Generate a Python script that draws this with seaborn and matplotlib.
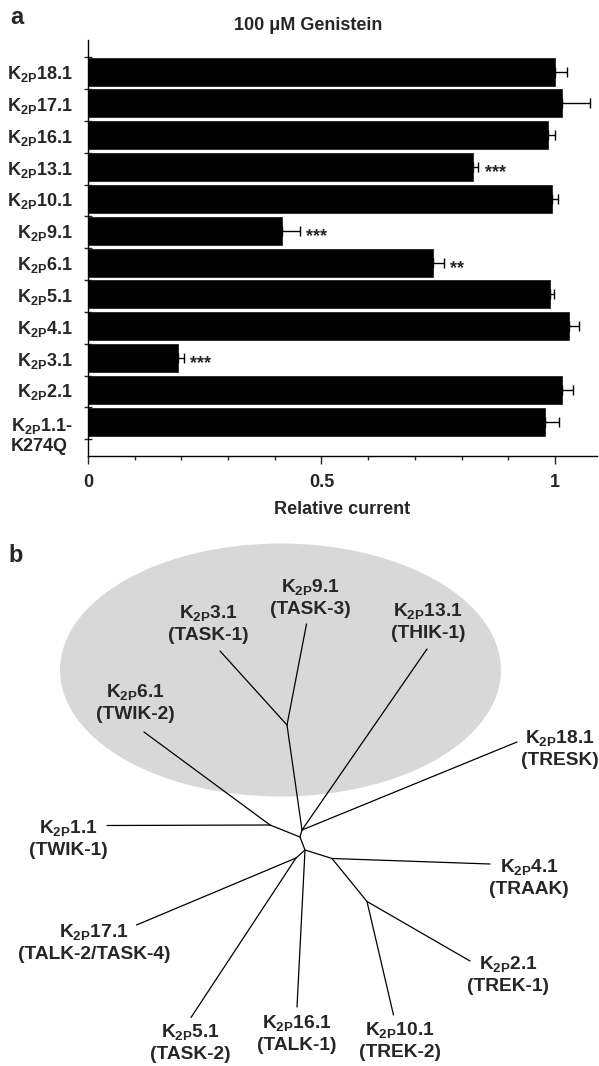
import numpy as np
import pandas as pd
import matplotlib
matplotlib.use("Agg")
import matplotlib.pyplot as plt
import seaborn as sns
from matplotlib.patches import Ellipse
from matplotlib.transforms import ScaledTranslation

# ---------------- data: panel a ----------------
channels = ["K$_{2P}$18.1", "K$_{2P}$17.1", "K$_{2P}$16.1", "K$_{2P}$13.1",
            "K$_{2P}$10.1", "K$_{2P}$9.1", "K$_{2P}$6.1", "K$_{2P}$5.1",
            "K$_{2P}$4.1", "K$_{2P}$3.1", "K$_{2P}$2.1", "K$_{2P}$1.1-\nK274Q"]
relative_current = [1.001, 1.016, 0.986, 0.824, 0.993, 0.415, 0.739, 0.989,
                    1.031, 0.192, 1.014, 0.979]
sem = [0.024, 0.058, 0.014, 0.012, 0.013, 0.039, 0.023, 0.009,
       0.021, 0.014, 0.025, 0.029]
significance = ["", "", "", "***", "", "***", "**", "", "", "***", "", ""]
x_major_ticks = [0, 0.5, 1]
x_major_labels = ["0", "0.5", "1"]

# ---------------- data: panel b (tree) ----------------
tree_points = {
    "G": (287, 725), "C": (302, 830), "A": (270, 825), "B": (300, 837),
    "D": (305, 850), "H": (296, 858), "E": (332, 858.5), "F": (367, 901.5),
    "3.1": (220, 651), "9.1": (306.5, 624), "13.1": (427, 649),
    "18.1": (517, 742), "6.1": (144, 732), "1.1": (107, 825.5),
    "4.1": (490, 864), "17.1": (136.5, 925), "2.1": (470, 961),
    "5.1": (191, 1017.5), "16.1": (297, 1007), "10.1": (393.5, 1015),
}
tree_edges = [("G", "3.1"), ("G", "9.1"), ("G", "C"), ("C", "13.1"),
              ("C", "18.1"), ("C", "B"), ("B", "A"), ("A", "1.1"),
              ("A", "6.1"), ("B", "D"), ("D", "H"), ("H", "17.1"),
              ("H", "5.1"), ("D", "16.1"), ("D", "E"), ("E", "4.1"),
              ("E", "F"), ("F", "2.1"), ("F", "10.1")]
tip_names = ["K$_{2P}$9.1", "K$_{2P}$3.1", "K$_{2P}$13.1", "K$_{2P}$6.1",
             "K$_{2P}$18.1", "K$_{2P}$1.1", "K$_{2P}$4.1", "K$_{2P}$17.1",
             "K$_{2P}$2.1", "K$_{2P}$5.1", "K$_{2P}$16.1", "K$_{2P}$10.1"]
tip_aliases = ["(TASK-3)", "(TASK-1)", "(THIK-1)", "(TWIK-2)", "(TRESK)",
               "(TWIK-1)", "(TRAAK)", "(TALK-2/TASK-4)", "(TREK-1)",
               "(TASK-2)", "(TALK-1)", "(TREK-2)"]
tip_label_x = [310, 208, 428, 135, 560, 68, 529, 94, 508, 190, 297, 400]
tip_label_y = [587, 613, 611, 692, 738, 828, 867, 932, 964, 1032, 1023, 1030]
alias_y_offset = 22.5
cluster_ellipse = dict(center=(280.5, 670), width=441, height=253)

# ---------------- style ----------------
sns.set_style("ticks")
plt.rcParams["font.family"] = ["Liberation Sans", "DejaVu Sans"]
plt.rcParams["font.weight"] = "bold"
plt.rcParams["mathtext.fontset"] = "custom"
plt.rcParams["mathtext.rm"] = "Liberation Sans:bold"
plt.rcParams["mathtext.it"] = "Liberation Sans:bold"
plt.rcParams["mathtext.bf"] = "Liberation Sans:bold"
plt.rcParams["mathtext.default"] = "rm"
FS = 13
FS_TREE = 13.8

W, H = 599, 1066
fig = plt.figure(figsize=(W / 100, H / 100), dpi=100)
fig.patch.set_facecolor("white")

# ---------------- panel a ----------------
ax = fig.add_axes([88 / W, 1 - 455.5 / H, 509 / W, 415.5 / H])
df = pd.DataFrame({"channel": channels, "current": relative_current})
sns.barplot(data=df, x="current", y="channel", orient="h", color="black",
            saturation=1, width=0.88, errorbar=None, edgecolor="#222222",
            linewidth=0.6, ax=ax)
pos = np.arange(len(channels))
ax.errorbar(relative_current, pos, xerr=[np.zeros(len(sem)), sem], fmt="none",
            ecolor="black", elinewidth=1.0, capsize=3.3, capthick=1.0, zorder=3)
for i, (v, e, s) in enumerate(zip(relative_current, sem, significance)):
    if s:
        ax.annotate(s, xy=(v + e, i), xytext=(4.5, -7.3), textcoords="offset points",
                    ha="left", va="baseline", fontsize=FS, fontweight="bold")

ax.set_xlim(0, 1.09)
ax.set_ylim(12.06, -0.99)
ax.set_xticks(x_major_ticks)
ax.set_xticklabels(x_major_labels)
ax.set_xticks(np.arange(0, 1.09, 0.1), minor=True)
ax.set_yticks(np.arange(len(channels) + 1) - 0.45, minor=True)
ax.tick_params(axis="x", which="major", direction="out", length=5.5, width=1.0,
               pad=8, labelsize=FS)
ax.tick_params(axis="x", which="minor", direction="out", length=3, width=1.0)
ax.tick_params(axis="y", which="major", length=0, pad=11, labelsize=FS)
ax.tick_params(axis="y", which="minor", direction="inout", length=6, width=1.0)
for lbl in ax.get_yticklabels():
    lbl.set_multialignment("left")
    lbl.set_fontweight("bold")
    if "\n" in lbl.get_text():
        lbl.set_transform(lbl.get_transform() +
                          ScaledTranslation(0, -0.105, fig.dpi_scale_trans))
for lbl in ax.get_xticklabels():
    lbl.set_fontweight("bold")
ax.set_ylabel("")
ax.set_xlabel("Relative current", fontsize=FS, fontweight="bold", labelpad=7)
for side in ["top", "right"]:
    ax.spines[side].set_visible(False)
for side in ["left", "bottom"]:
    ax.spines[side].set_linewidth(1.0)
    ax.spines[side].set_color("black")
ax.set_facecolor("white")

fig.text(308 / W, 1 - 25 / H, "100 \u03bcM Genistein", ha="center", va="center",
         fontsize=FS, fontweight="bold")
fig.text(10 / W, 1 - 18 / H, "a", ha="left", va="center", fontsize=17,
         fontweight="bold")
fig.text(8 / W, 1 - 556 / H, "b", ha="left", va="center", fontsize=17,
         fontweight="bold")

# ---------------- panel b ----------------
ax2 = fig.add_axes([0, 0, 1, (H - 530) / H])
ax2.set_xlim(0, W)
ax2.set_ylim(H, 530)
ax2.axis("off")
ax2.add_patch(Ellipse(cluster_ellipse["center"], cluster_ellipse["width"],
                      cluster_ellipse["height"], facecolor="#d8d8d8",
                      edgecolor="none", zorder=0))
for a, b in tree_edges:
    (x1, y1), (x2, y2) = tree_points[a], tree_points[b]
    ax2.plot([x1, x2], [y1, y2], color="black", lw=0.9, zorder=2,
             solid_capstyle="round")
for name, alias, x, y in zip(tip_names, tip_aliases, tip_label_x, tip_label_y):
    ax2.text(x, y, name, ha="center", va="center", fontsize=FS_TREE,
             fontweight="bold", zorder=3)
    ax2.text(x, y + alias_y_offset, alias, ha="center", va="center",
             fontsize=FS_TREE, fontweight="bold", zorder=3)

fig.savefig("out.png", dpi=100, facecolor="white")
